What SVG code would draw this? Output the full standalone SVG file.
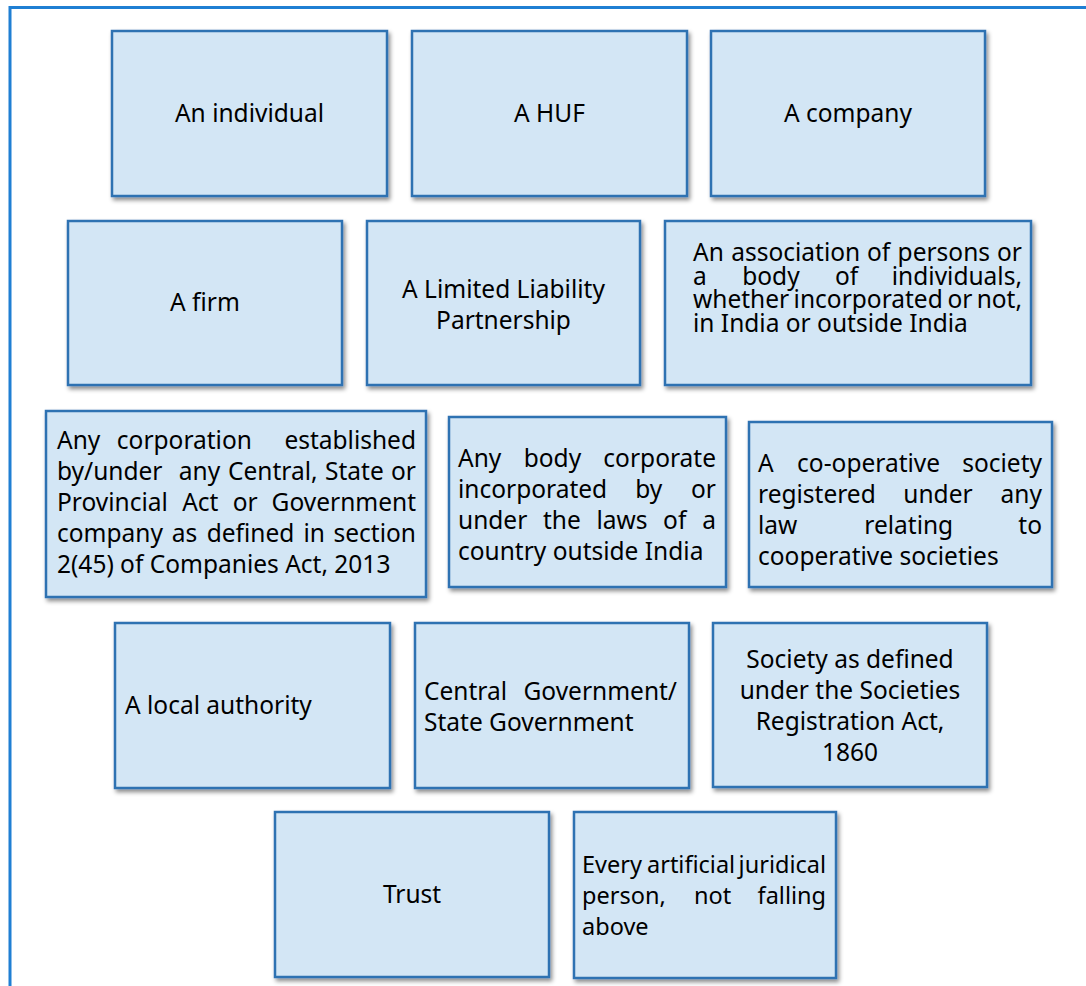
<svg xmlns="http://www.w3.org/2000/svg" width="1086" height="986" viewBox="0 0 1086 986">
<style>
.box{fill:#d3e6f5;stroke:#2e72b2;stroke-width:2.5;filter:url(#sh)}
.t{font-family:"Noto Sans","Open Sans","Liberation Sans",sans-serif;font-size:24.5px;fill:#000}
.s{font-size:23.5px}
.m{text-anchor:middle}
.e{text-anchor:end}
.frame{stroke:#1f7fd3;stroke-width:3;fill:none}
</style>
<defs>
<filter id="sh" x="-10%" y="-10%" width="125%" height="125%">
<feDropShadow dx="2" dy="3" stdDeviation="2" flood-color="#000" flood-opacity="0.45"/>
</filter>
</defs>
<rect width="1086" height="986" fill="#fff"/>
<path class="frame" d="M10 986 V7.5 H1086"/>
<g id="connectors"/>

<g id="n1"><rect class="box" x="112" y="31" width="275" height="165"/><text class="t m" x="249.5" y="122">An individual</text></g>
<g id="n2"><rect class="box" x="412" y="31" width="275" height="165"/><text class="t m" x="549.5" y="122">A HUF</text></g>
<g id="n3"><rect class="box" x="711" y="31" width="274" height="165"/><text class="t m" x="848" y="122">A company</text></g>

<g id="n4"><rect class="box" x="68" y="221" width="274" height="164"/><text class="t m" x="205" y="311">A firm</text></g>
<g id="n5"><rect class="box" x="367" y="221" width="273" height="164"/><text class="t m"><tspan x="503.5" y="298">A Limited Liability</tspan><tspan x="503.5" y="329">Partnership</tspan></text></g>
<g id="n6"><rect class="box" x="665" y="221" width="366" height="164"/>
<text class="t"><tspan x="693" y="261">An</tspan><tspan x="731.2" y="261">association</tspan><tspan x="866.9" y="261">of</tspan><tspan x="897.6" y="261">persons</tspan><tspan class="e" x="1022" y="261">or</tspan><tspan x="693" y="284.5">a</tspan><tspan x="742.2" y="284.5">body</tspan><tspan x="834.9" y="284.5">of</tspan><tspan class="e" x="1022" y="284.5">individuals,</tspan><tspan x="693" y="308">whether</tspan><tspan x="793.6" y="308">incorporated</tspan><tspan x="947.4" y="308">or</tspan><tspan class="e" x="1022" y="308">not,</tspan><tspan x="693" y="331.5">in India or outside India</tspan></text>
</g>

<g id="n7"><rect class="box" x="46" y="411" width="380" height="186"/>
<text class="t"><tspan x="57" y="449">Any</tspan><tspan x="116.8" y="449">corporation</tspan><tspan class="e" x="416" y="449">established</tspan><tspan x="57" y="480">by/under</tspan><tspan x="178.8" y="480">any</tspan><tspan x="228" y="480">Central,</tspan><tspan x="325" y="480">State</tspan><tspan class="e" x="416" y="480">or</tspan><tspan x="57" y="511">Provincial</tspan><tspan x="182.2" y="511">Act</tspan><tspan x="232.8" y="511">or</tspan><tspan class="e" x="416" y="511">Government</tspan><tspan x="57" y="542">company</tspan><tspan x="171.8" y="542">as</tspan><tspan x="206.7" y="542">defined</tspan><tspan x="303.4" y="542">in</tspan><tspan class="e" x="416" y="542">section</tspan><tspan x="57" y="573">2(45) of Companies Act, 2013</tspan></text>
</g>

<g id="n8"><rect class="box" x="449" y="417" width="277" height="170"/>
<text class="t"><tspan x="458" y="467">Any</tspan><tspan x="523.7" y="467">body</tspan><tspan class="e" x="716" y="467">corporate</tspan><tspan x="458" y="498">incorporated</tspan><tspan x="635.2" y="498">by</tspan><tspan class="e" x="716" y="498">or</tspan><tspan x="458" y="529">under</tspan><tspan x="542.9" y="529">the</tspan><tspan x="596.4" y="529">laws</tspan><tspan x="663.1" y="529">of</tspan><tspan class="e" x="716" y="529">a</tspan><tspan x="458" y="560">country outside India</tspan></text>
</g>

<g id="n9"><rect class="box" x="749" y="422" width="303" height="165"/>
<text class="t"><tspan x="758" y="472">A</tspan><tspan x="797.1" y="472">co-operative</tspan><tspan class="e" x="1042" y="472">society</tspan><tspan x="758" y="503">registered</tspan><tspan x="903.3" y="503">under</tspan><tspan class="e" x="1042" y="503">any</tspan><tspan x="758" y="534">law</tspan><tspan x="864.3" y="534">relating</tspan><tspan class="e" x="1042" y="534">to</tspan><tspan x="758" y="565">cooperative societies</tspan></text>
</g>

<g id="n10"><rect class="box" x="115" y="623" width="275" height="165"/><text class="t" x="125" y="714">A local authority</text></g>
<g id="n11"><rect class="box" x="415" y="623" width="274" height="165"/>
<text class="t"><tspan x="424" y="700">Central</tspan><tspan class="e" x="677" y="700">Government/</tspan><tspan x="424" y="731">State Government</tspan></text>
</g>
<g id="n12"><rect class="box" x="713" y="623" width="274" height="164"/>
<text class="t m"><tspan x="850" y="668">Society as defined</tspan><tspan x="850" y="699">under the Societies</tspan><tspan x="850" y="730">Registration Act,</tspan><tspan x="850" y="761">1860</tspan></text>
</g>

<g id="n13"><rect class="box" x="275" y="812" width="274" height="165"/><text class="t m" x="412" y="903">Trust</text></g>
<g id="n14"><rect class="box" x="574" y="812" width="262" height="166"/>
<text class="t s"><tspan x="582" y="873">Every</tspan><tspan x="647" y="873">artificial</tspan><tspan class="e" x="826" y="873">juridical</tspan><tspan x="582" y="904">person,</tspan><tspan x="693.9" y="904">not</tspan><tspan class="e" x="826" y="904">falling</tspan><tspan x="582" y="935">above</tspan></text>
</g>
</svg>
